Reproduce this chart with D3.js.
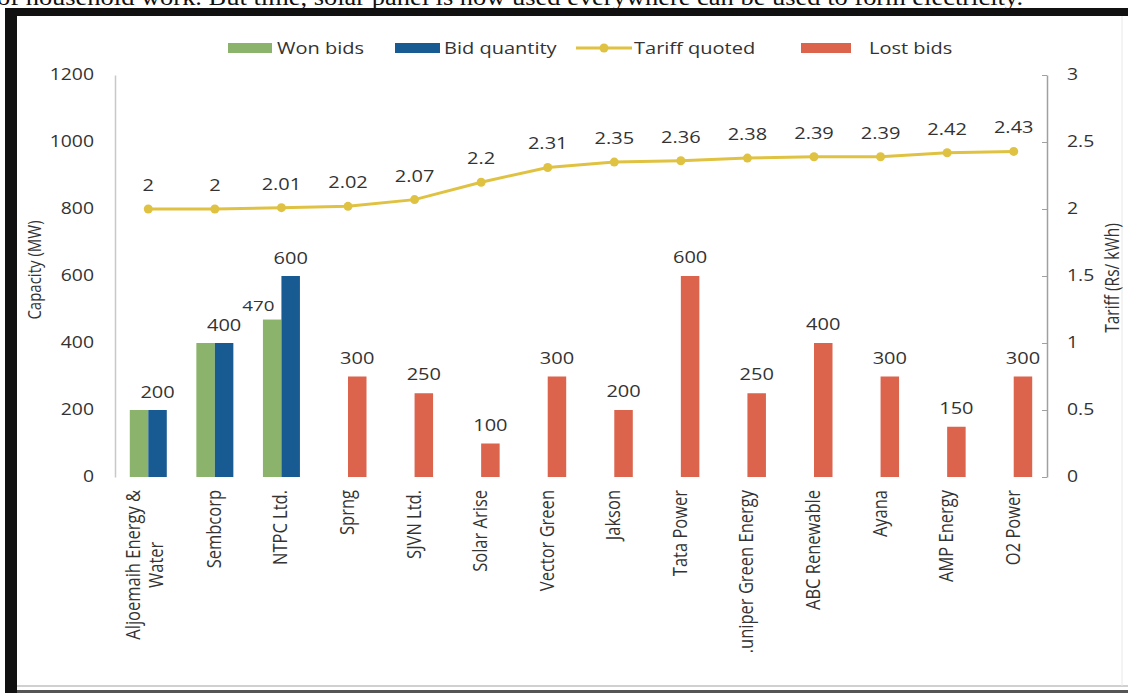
<!DOCTYPE html>
<html>
<head>
<meta charset="utf-8">
<script src="https://cdn.jsdelivr.net/npm/d3@7"></script>
<style>
  body { margin: 0; background: #fff; }
  svg { display: block; }
  .num { font-family: "Open Sans", sans-serif; fill: #333; }
  .axis path { fill: none; }
</style>
</head>
<body>
<svg id="chart" width="1128" height="693"></svg>
<script>
// chart data
const categories = [
  "Aljoemaih Energy &\nWater", "Sembcorp", "NTPC Ltd.", "Sprng", "SJVN Ltd.",
  "Solar Arise", "Vector Green", "Jakson", "Tata Power", ".uniper Green Energy",
  "ABC Renewable", "Ayana", "AMP Energy", "O2 Power"
];
const wonBids = [200, 400, 470, 0, 0, 0, 0, 0, 0, 0, 0, 0, 0, 0];
const bidQuantity = [200, 400, 600, 0, 0, 0, 0, 0, 0, 0, 0, 0, 0, 0];
const lostBids = [0, 0, 0, 300, 250, 100, 300, 200, 600, 250, 400, 300, 150, 300];
const tariff = [2, 2, 2.01, 2.02, 2.07, 2.2, 2.31, 2.35, 2.36, 2.38, 2.39, 2.39, 2.42, 2.43];
const capTicks = [0, 200, 400, 600, 800, 1000, 1200];
const tariffTicks = [0, 0.5, 1, 1.5, 2, 2.5, 3];

const colors = { won: "#8cb36c", bid: "#175b92", lost: "#dc634c", tariff: "#e0c242" };
const SX = 1.25; // the picture is stretched sideways, so horizontal text is too

const svg = d3.select("#chart");

// page text above the chart, mostly cut off
svg.append("text")
  .attr("x", -3).attr("y", 5)
  .attr("textLength", 1026).attr("lengthAdjust", "spacingAndGlyphs")
  .style("font-family", "Liberation Serif, serif").style("font-size", "23px")
  .attr("fill", "#111")
  .text("of household work. But time, solar panel is now used everywhere can be used to form electricity.");

// black frame of the screenshot
svg.append("rect").attr("x", 5).attr("y", 8).attr("width", 1123).attr("height", 8).attr("fill", "#111");
svg.append("rect").attr("x", 5).attr("y", 8).attr("width", 12).attr("height", 685).attr("fill", "#111");
svg.append("line").attr("x1", 17).attr("x2", 1128).attr("y1", 686).attr("y2", 686).attr("stroke", "#d0d0d0").attr("stroke-width", 2);
svg.append("rect").attr("x", 17).attr("y", 690).attr("width", 1111).attr("height", 3).attr("fill", "#555");
svg.append("line").attr("x1", 1122).attr("x2", 1122).attr("y1", 16).attr("y2", 686).attr("stroke", "#e8e8e8");

// scales
const x = d3.scaleBand().domain(categories).range([115, 1047]);
const yCap = d3.scaleLinear().domain([0, 1200]).range([477, 75]);
const yTar = d3.scaleLinear().domain([0, 3]).range([477, 75]);
const bw = 18.5;
const xc = (d) => x(d) + x.bandwidth() / 2;

// helper for sideways-stretched text
function hText(g, px, py, str, size, anchor) {
  return g.append("text")
    .attr("class", "num")
    .attr("transform", `translate(${px},${py}) scale(${SX},1)`)
    .attr("text-anchor", anchor || "middle")
    .style("font-size", size + "px")
    .text(str);
}

// left axis
const leftAxis = svg.append("g").attr("class", "axis").attr("transform", "translate(115,0)")
  .call(d3.axisLeft(yCap).tickValues(capTicks).tickSize(0).tickPadding(21).tickFormat(d3.format("d")));
leftAxis.select(".domain").attr("stroke", "#c8c8c8").attr("stroke-width", 1.5);
leftAxis.selectAll(".tick text")
  .attr("class", "num").style("font-size", "15.5px")
  .attr("transform", `scale(${SX},1)`).attr("x", -21 / SX);

// right axis
const rightAxis = svg.append("g").attr("class", "axis").attr("transform", "translate(1047,0)")
  .call(d3.axisRight(yTar).tickValues(tariffTicks).tickSizeInner(-5).tickSizeOuter(0)
    .tickPadding(20).tickFormat(d3.format("~g")));
rightAxis.select(".domain").attr("stroke", "#a0a0a0").attr("stroke-width", 1.5);
rightAxis.selectAll(".tick line").attr("stroke", "#a0a0a0");
rightAxis.selectAll(".tick text")
  .attr("class", "num").style("font-size", "15.5px")
  .attr("transform", `scale(${SX},1)`).attr("x", 20 / SX);

// axis titles
svg.append("text").attr("class", "num")
  .attr("transform", `translate(41,270) scale(${SX},1) rotate(-90)`)
  .attr("text-anchor", "middle").style("font-size", "15px").attr("fill", "#262626")
  .text("Capacity (MW)");
svg.append("text").attr("class", "num")
  .attr("transform", `translate(1119,278) scale(${SX},1) rotate(-90)`)
  .attr("text-anchor", "middle").style("font-size", "15.5px").attr("fill", "#262626")
  .text("Tariff (Rs/ kWh)");

// bars
const bars = svg.append("g");
bars.selectAll(".won").data(categories.filter((c, i) => wonBids[i] > 0)).enter()
  .append("rect").attr("class", "won")
  .attr("x", (d) => xc(d) - bw).attr("width", bw)
  .attr("y", (d) => yCap(wonBids[categories.indexOf(d)]))
  .attr("height", (d) => yCap(0) - yCap(wonBids[categories.indexOf(d)]))
  .attr("fill", colors.won);
bars.selectAll(".bid").data(categories.filter((c, i) => bidQuantity[i] > 0)).enter()
  .append("rect").attr("class", "bid")
  .attr("x", (d) => xc(d)).attr("width", bw)
  .attr("y", (d) => yCap(bidQuantity[categories.indexOf(d)]))
  .attr("height", (d) => yCap(0) - yCap(bidQuantity[categories.indexOf(d)]))
  .attr("fill", colors.bid);
bars.selectAll(".lost").data(categories.filter((c, i) => lostBids[i] > 0)).enter()
  .append("rect").attr("class", "lost")
  .attr("x", (d) => xc(d)).attr("width", bw)
  .attr("y", (d) => yCap(lostBids[categories.indexOf(d)]))
  .attr("height", (d) => yCap(0) - yCap(lostBids[categories.indexOf(d)]))
  .attr("fill", colors.lost);

// bar value labels
const labels = svg.append("g");
categories.forEach((c, i) => {
  if (bidQuantity[i] > 0) {
    hText(labels, xc(c) + bw / 2, yCap(bidQuantity[i]) - 12, bidQuantity[i], 16);
    if (wonBids[i] !== bidQuantity[i]) {
      hText(labels, xc(c) - 7, yCap(wonBids[i]) - 9, wonBids[i], 15, "end").attr("fill", "#595959");
    }
  }
  if (lostBids[i] > 0) {
    hText(labels, xc(c) + bw / 2, yCap(lostBids[i]) - 13, lostBids[i], 16);
  }
});

// tariff line
const line = d3.line().x((d, i) => xc(categories[i])).y((d) => yTar(d));
svg.append("path").datum(tariff).attr("d", line)
  .attr("fill", "none").attr("stroke", colors.tariff).attr("stroke-width", 3);
svg.append("g").selectAll("circle").data(tariff).enter().append("circle")
  .attr("cx", (d, i) => xc(categories[i])).attr("cy", (d) => yTar(d))
  .attr("r", 4.5).attr("fill", colors.tariff);
tariff.forEach((t, i) => {
  hText(labels, xc(categories[i]), yTar(t) - 18, t, 16);
});

// category labels, rotated
categories.forEach((c) => {
  const lines = c.split("\n");
  const g = svg.append("g")
    .attr("transform", `translate(${xc(c) + 6 - (lines.length - 1) * 14},490) scale(1.22,1) rotate(-90)`);
  const t = g.append("text").attr("class", "num")
    .style("font-size", "16.5px").attr("fill", "#222").attr("text-anchor", "middle");
  lines.forEach((l, k) => {
    t.append("tspan").attr("x", 0).attr("dy", k === 0 ? 0 : 23 / 1.22).text(l);
  });
  const maxLen = d3.max(t.selectAll("tspan").nodes(), (n) => n.getComputedTextLength());
  t.selectAll("tspan").attr("x", -maxLen / 2);
});

// legend
const legend = svg.append("g");
const legendY = 48;
const legendItems = [
  { name: "Won bids", kind: "rect", color: colors.won, x0: 228, x1: 272, tx: 277 },
  { name: "Bid quantity", kind: "rect", color: colors.bid, x0: 395, x1: 440, tx: 444 },
  { name: "Tariff quoted", kind: "line", color: colors.tariff, x0: 576, x1: 632, tx: 634 },
  { name: "Lost bids", kind: "rect", color: colors.lost, x0: 801, x1: 851, tx: 869 }
];
legendItems.forEach((it) => {
  if (it.kind === "rect") {
    legend.append("rect").attr("x", it.x0).attr("y", legendY - 5)
      .attr("width", it.x1 - it.x0).attr("height", 10).attr("fill", it.color);
  } else {
    legend.append("line").attr("x1", it.x0).attr("x2", it.x1)
      .attr("y1", legendY).attr("y2", legendY)
      .attr("stroke", it.color).attr("stroke-width", 3);
    legend.append("circle").attr("cx", (it.x0 + it.x1) / 2).attr("cy", legendY)
      .attr("r", 4.5).attr("fill", it.color);
  }
  hText(legend, it.tx, legendY + 5.5, it.name, 16, "start").attr("fill", "#222");
});
</script>
</body>
</html>
